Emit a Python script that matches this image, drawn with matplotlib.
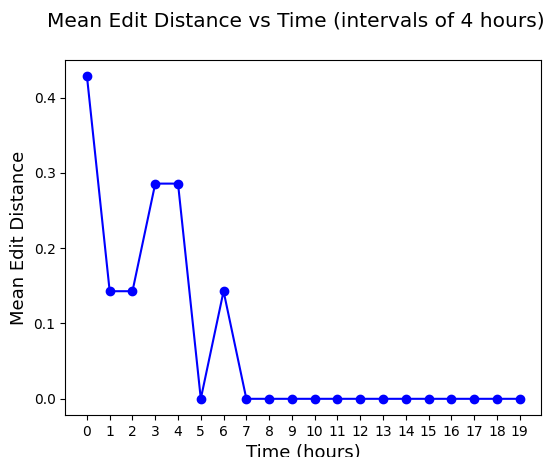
import matplotlib
matplotlib.use("Agg")
import matplotlib.pyplot as plt

hours = list(range(20))
mean_dist = [3/7, 1/7, 1/7, 2/7, 2/7, 0, 1/7] + [0] * 13

fig = plt.figure(figsize=(5.44, 4.57), dpi=100)
ax = fig.add_axes([0.12, 0.092, 0.875, 0.777])
ax.plot(hours, mean_dist, marker='o', color='blue')
ax.set_xticks(hours)
ax.set_xlabel('Time (hours)', fontsize=13)
ax.set_ylabel('Mean Edit Distance', fontsize=13)
fig.suptitle('Mean Edit Distance vs Time (intervals of 4 hours)', fontsize=14.5, x=0.543, y=0.975)
fig.savefig('out.png')
